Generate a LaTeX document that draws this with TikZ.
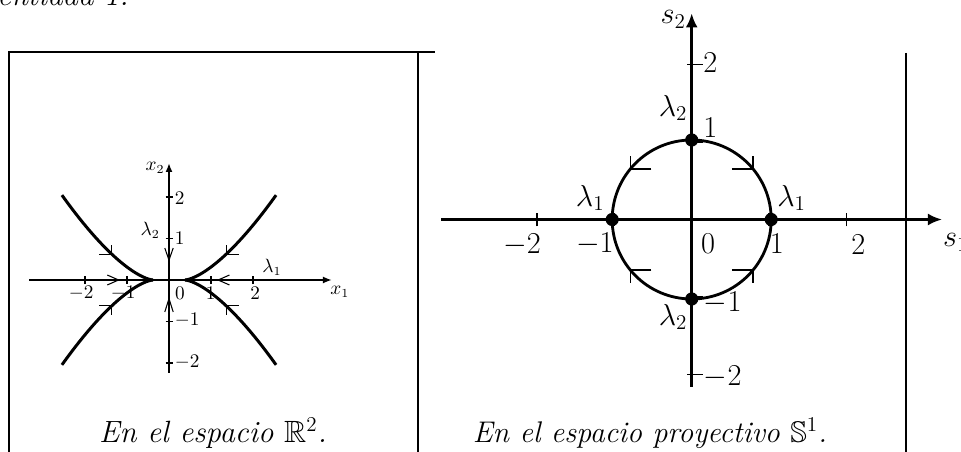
\documentclass[tikz,border=0pt]{standalone}
\usepackage{amsmath,amssymb}
\usetikzlibrary{arrows.meta}

\begin{document}
\begin{tikzpicture}[x=0.02cm, y=-0.02cm,
  marco/.style={line width=1.7pt},
  axe/.style={line width=1pt, -{Latex[length=0.18cm,width=0.14cm]}},
  axeg/.style={line width=1.5pt, -{Latex[length=0.28cm,width=0.24cm]}},
  curva/.style={line width=1.7pt},
  circulo/.style={line width=1.6pt},
  flecha/.style={line width=0.6pt},
  flechag/.style={line width=0.9pt},
  punto/.style={circle, fill, inner sep=0pt, minimum size=7.5pt},
  eti/.style={inner sep=0pt, font=\fontsize{10.5}{12}\selectfont},
  etig/.style={inner sep=0pt, font=\fontsize{18.5}{21}\selectfont},
  pie/.style={inner sep=0pt, font=\fontsize{17.5}{20}\selectfont\itshape}
]
\useasboundingbox[fill=white] (0,0) rectangle (961,452);

\node[pie, anchor=base east] (previo) at (129,6) {identidad 1.};

% marco de la tabla
\draw[marco] (8,52) -- (435,52);
\draw[marco] (9,52) -- (9,455);
\draw[line width=1.2pt] (418,52) -- (418,455);
\draw[line width=1.2pt] (906,53) -- (906,455);

% en R^2
\begin{scope}[shift={(169,280)}, x=0.84cm, y=0.83cm]
\draw[axe] (-3.33,0) -- (3.88,0) coordinate (fx1);
\draw[axe] (0,-2.24) -- (0,2.82) coordinate (fx2);
\foreach \t in {-2,-1,1,2} {
  \draw[flecha] (\t,-0.1) -- (\t,0.1);
  \draw[flecha] (-0.08,\t) -- (0.1,\t);
}
\foreach \sx/\sy in {1/1,1/-1,-1/1,-1/-1} {
  \draw[curva] plot[domain=0:2.17, samples=40, smooth]
    ({\sx*(\x+0.38)}, {\sy*0.64*\x*sqrt(\x)});
  \draw[flecha] ({\sx*1.66},{\sy*0.62}) -- ({\sx*1.36},{\sy*0.62}) -- ({\sx*1.36},{\sy*0.84});
}
\draw[flecha] (-1.47,0.12) -- (-1.2,0) -- (-1.47,-0.12);
\draw[flecha] (1.44,0.12) -- (1.17,0) -- (1.44,-0.12);
\draw[flecha] (-0.1,0.77) -- (0,0.48) -- (0.1,0.77);
\draw[flecha] (-0.1,-0.77) -- (0,-0.45) -- (0.1,-0.77);
\node[eti] (lx1) at (4.07,-0.29) {$x_1$};
\node[eti] (lx2) at (-0.33,2.70) {$x_2$};
\node[eti] (la2) at (-0.45,1.2) {$\lambda_2$};
\node[eti] (la1) at (2.45,0.31) {$\lambda_1$};
\node[eti] (h2) at (-2.09,-0.31) {$-2$};
\node[eti] (h1) at (-1.09,-0.31) {$-1$};
\node[eti] (h0) at (0.26,-0.31) {$0$};
\node[eti] (k1) at (0.99,-0.31) {$1$};
\node[eti] (k2) at (2.05,-0.31) {$2$};
\node[eti, anchor=west] (v2) at (0.13,1.98) {$2$};
\node[eti, anchor=west] (v1) at (0.13,1.0) {$1$};
\node[eti, anchor=west] (w1) at (0.13,-0.96) {$-1$};
\node[eti, anchor=west] (w2) at (0.13,-1.98) {$-2$};
\end{scope}

% en S^1
\begin{scope}[shift={(691.7,219.5)}, x=1.55cm, y=1.55cm]
\draw[axeg] (-3.23,0) -- (3.23,0) coordinate (fs1);
\draw[axeg] (0,-2.16) -- (0,2.66) coordinate (fs2);
\foreach \t in {-2,-1,1,2} {
  \draw[flechag] (\t,-0.09) -- (\t,0.09);
  \draw[flechag] (-0.06,\t) -- (0.15,\t);
}
\draw[circulo] (0,0) circle (1.026);
\foreach \sx/\sy in {1/1,1/-1,-1/1,-1/-1}
  \draw[flechag] ({\sx*0.52},{\sy*0.65}) -- ({\sx*0.79},{\sy*0.65}) -- ({\sx*0.79},{\sy*0.82});
\node[punto] (pd) at (1.026,0) {};
\node[punto] (pi) at (-1.026,0) {};
\node[punto] (ps) at (0,1.026) {};
\node[punto] (pb) at (0,-1.026) {};
\node[etig, anchor=north west] (ls1) at (3.24,-0.18) {$s_1$};
\node[etig] (ls2) at (-0.24,2.58) {$s_2$};
\node[etig] (ma2) at (-0.24,1.44) {$\lambda_2$};
\node[etig] (mb2) at (-0.24,-1.26) {$\lambda_2$};
\node[etig] (ma1) at (-1.31,0.28) {$\lambda_1$};
\node[etig] (mb1) at (1.29,0.28) {$\lambda_1$};
\node[etig] (r2) at (-2.19,-0.33) {$-2$};
\node[etig] (r1) at (-1.25,-0.31) {$-1$};
\node[etig] (r0) at (0.21,-0.31) {$0$};
\node[etig] (q1) at (1.10,-0.31) {$1$};
\node[etig] (q2) at (2.15,-0.33) {$2$};
\node[etig] (u2) at (0.24,2.02) {$2$};
\node[etig] (u1) at (0.24,1.18) {$1$};
\node[etig] (t1) at (0.40,-1.08) {$-1$};
\node[etig] (t2) at (0.40,-2.03) {$-2$};
\end{scope}

\node[pie] (pie1) at (213,433) {En el espacio $\mathbb{R}^2$.};
\node[pie, font=\fontsize{17}{20}\selectfont\itshape] (pie2) at (650,433) {En el espacio proyectivo $\mathbb{S}^1$.};
\end{tikzpicture}
\end{document}
